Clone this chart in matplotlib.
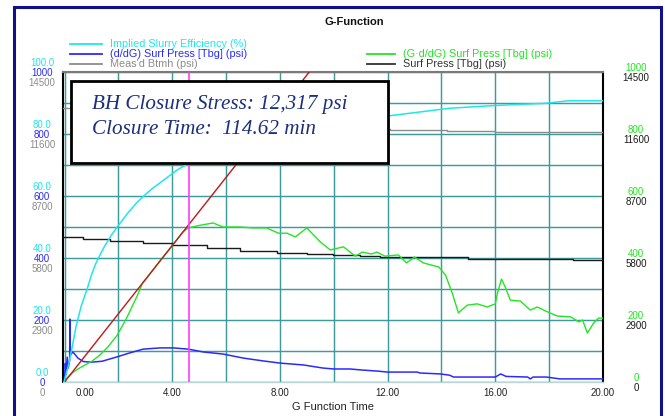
import matplotlib
matplotlib.use("Agg")
import matplotlib.pyplot as plt
from matplotlib.patches import Rectangle
from matplotlib.lines import Line2D
from matplotlib.transforms import ScaledTranslation
import numpy as np

plt.rcParams['font.family'] = ['Liberation Sans', 'DejaVu Sans']

# ---------------- data ----------------
# Implied Slurry Efficiency (%)  (left cyan axis 0-100)
eff_G = [-0.02, 0.15, 0.28, 0.43, 0.62, 0.84, 1.0, 1.15, 1.32, 1.5, 1.75, 2.0, 2.35,
         2.7, 3.2, 3.74, 4.2, 4.67, 6.0, 8.0, 10.0, 12.0, 14.3, 16.0, 17.85, 18.7, 20.0]
eff_val = [0, 5.5, 11, 18, 24.5, 30, 34.5, 38, 41, 44, 47.5, 50.5, 54.5,
           58, 62, 65.5, 68.5, 70.8, 75.5, 80, 83.3, 85.8, 88.3, 89.2, 89.9, 90.7, 90.7]

# (d/dG) Surf Press [Tbg] (psi)  (left blue axis 0-1000)
ddg_G = [0.0, 0.03, 0.06, 0.1, 0.14, 0.19, 0.2, 0.21, 0.3, 0.36, 0.5, 0.7, 1.0, 1.4,
         1.95, 2.43, 2.92, 3.55, 4.03, 4.6, 5.15, 5.9, 6.65, 7.38, 8.0, 8.87, 9.6,
         10.0, 10.6, 11.0, 11.65, 12.0, 13.1, 13.2, 13.96, 14.3, 14.45, 15.5, 16.0,
         16.2, 16.4, 17.2, 17.3, 17.4, 17.9, 18.4, 20.0]
ddg_val = [5, 60, 25, 80, 45, 70, 203, 85, 97, 92, 77, 66, 64, 67,
           81, 94, 106, 110, 110, 106, 97, 90, 77, 68, 61, 55, 45,
           42, 42, 39, 35, 32, 32, 29, 26, 22, 16, 16, 16,
           26, 18, 16, 10, 16, 16, 10, 10]

# Meas'd Btmh (psi)  (left gray axis 0-14500)
btmh_G = [-0.06, 2.0, 4.0, 6.0, 8.0, 10.0, 11.9, 12.1, 14.2, 16.0, 20.0]
btmh_val = [12816, 12650, 12500, 12350, 12200, 12020, 11856, 11810, 11744, 11716, 11716]

# (G*d/dG) Surf Press [Tbg] (psi)  (right green axis 0-1000)
gdg_G = [0, 0.13, 0.3, 0.5, 0.7, 1.0, 1.3, 1.6, 1.95, 2.3, 2.7, 2.9, 3.2, 3.55, 4.0,
         4.4, 4.6, 5.0, 5.52, 5.89, 6.52, 7.0, 7.5, 7.95, 8.27, 8.57, 9.0, 9.5, 9.87,
         10.36, 10.8, 11.06, 11.4, 11.6, 11.9, 12.4, 12.7, 13.0, 13.33, 13.9, 14.15,
         14.4, 14.63, 14.96, 15.33, 15.7, 16.0, 16.08, 16.23, 16.37, 16.56, 16.93,
         17.3, 17.56, 17.94, 18.3, 18.8, 19.1, 19.24, 19.42, 19.65, 19.83, 20.0]
gdg_val = [0, 16, 30, 42, 52, 66, 86, 112, 150, 205, 278, 319, 352, 391, 440,
           484, 497, 505, 513, 500, 500, 497, 497, 480, 480, 468, 497, 452, 426,
           436, 406, 419, 413, 419, 406, 410, 384, 403, 384, 371, 345,
           287, 223, 248, 252, 242, 252, 287, 332, 306, 264, 261,
           232, 242, 226, 213, 210, 194, 200, 158, 190, 206, 206]

# Tangent line on G*dP/dG
tan_G = [0.0, 9.3]
tan_val = [0, 1023]

# Surf Press [Tbg] (psi)  (right black axis 0-14500)
surf_G = [-0.06, 0.69, 1.69, 2.92, 4.0, 5.3, 6.52, 7.9, 9.0, 9.98, 10.98, 11.73,
          15.0, 18.9, 20.0]
surf_val = [6782, 6689, 6595, 6502, 6408, 6268, 6128, 6034, 5987, 5940, 5894, 5847,
            5753, 5707, 5707]

closure_G = 4.62

x_ticks = [0, 4, 8, 12, 16, 20]
x_tick_labels = ["0.00", "4.00", "8.00", "12.00", "16.00", "20.00"]
pct_ticks = [0, 20, 40, 60, 80, 100]
pct_labels = ["0.0", "20.0", "40.0", "60.0", "80.0", "100.0"]
ddg_labels = ["0", "200", "400", "600", "800", "1000"]
psi_labels = ["0", "2900", "5800", "8700", "11600", "14500"]

# ---------------- figure ----------------
W, H = 665, 416
fig = plt.figure(figsize=(W / 100, H / 100), dpi=100)
fig.patch.set_facecolor('white')

def fx(px):
    return px / W

def fy(py):
    return 1 - py / H

L, R, T, B = 63, 603, 72, 382
ax = fig.add_axes([fx(L), fy(B), (R - L) / W, (B - T) / H])
ax.set_facecolor('white')

CYAN = '#1ee6ee'
BLUE = '#2a2aff'
GRAY = '#8c8c8c'
GREEN = '#22e622'
BLACK = '#1a1a1a'
RED = '#c01818'
MAG = '#ff3cff'
GRID = '#3f9a9a'

ax.set_xlim(-0.056, 20.0)
ax.set_ylim(0, 1000)
ax.set_xticks(np.arange(0, 21, 2))
ax.set_xticklabels([x_tick_labels[x_ticks.index(v)] if v in x_ticks else ""
                    for v in range(0, 21, 2)], fontsize=7, color='#222222')
ax.set_yticks(np.arange(0, 1001, 100))
ax.set_yticklabels([])
ax.tick_params(axis='both', length=0, pad=4)
ax.grid(True, color=GRID, lw=1.05)
ax.set_axisbelow(True)
for s in ['left', 'right']:
    ax.spines[s].set_color('black')
    ax.spines[s].set_linewidth(1.5)
ax.spines['top'].set_color('#7a7a7a')
ax.spines['top'].set_linewidth(1.5)
ax.spines['bottom'].set_color('#b8d8d8')
ax.spines['bottom'].set_linewidth(1.0)

# shift first x label to the right as in the reference
lbls = ax.get_xticklabels()
lbls[0].set_transform(lbls[0].get_transform() + ScaledTranslation(0.2, 0, fig.dpi_scale_trans))

ax.set_xlabel("G Function Time", fontsize=8, color='#222222', labelpad=3)

# twin axes
def make_twin(ymax):
    t = ax.twinx()
    t.set_ylim(0, ymax)
    t.set_axis_off()
    return t

ax_psi = make_twin(14500)
ax_grn = make_twin(1000)
ax_pct = make_twin(100)

ax_psi.plot(btmh_G, btmh_val, color=GRAY, lw=1.0, drawstyle='steps-post')
ax_psi.plot(surf_G, surf_val, color=BLACK, lw=1.0, drawstyle='steps-post')
ax.plot(ddg_G, ddg_val, color=BLUE, lw=1.1, zorder=3)
ax_grn.plot(gdg_G, gdg_val, color=GREEN, lw=1.0)
ax_grn.plot(tan_G, tan_val, color=RED, lw=1.0)
ax_pct.plot(eff_G, eff_val, color=CYAN, lw=1.1)
ax_pct.axvline(closure_G, color=MAG, lw=1.2)

# left / right stacked labels
for v, t1, t2, t3 in zip(pct_ticks, pct_labels, ddg_labels, psi_labels):
    ax_pct.annotate(t1, xy=(0, v), xycoords=('axes fraction', 'data'),
                    xytext=(-21, 9), textcoords='offset pixels',
                    ha='center', va='center', fontsize=7, color=CYAN, annotation_clip=False)
    ax_pct.annotate(t2, xy=(0, v), xycoords=('axes fraction', 'data'),
                    xytext=(-21, -1.5), textcoords='offset pixels',
                    ha='center', va='center', fontsize=7, color=BLUE, annotation_clip=False)
    ax_pct.annotate(t3, xy=(0, v), xycoords=('axes fraction', 'data'),
                    xytext=(-21, -11), textcoords='offset pixels',
                    ha='center', va='center', fontsize=7, color=GRAY, annotation_clip=False)
    ax_pct.annotate(t2, xy=(1, v), xycoords=('axes fraction', 'data'),
                    xytext=(33, 4), textcoords='offset pixels',
                    ha='center', va='center', fontsize=7, color=GREEN, annotation_clip=False)
    ax_pct.annotate(t3, xy=(1, v), xycoords=('axes fraction', 'data'),
                    xytext=(33, -6), textcoords='offset pixels',
                    ha='center', va='center', fontsize=7, color=BLACK, annotation_clip=False)

# title
fig.text(fx(354), fy(22), "G-Function", ha='center', va='center',
         fontsize=8, fontweight='bold', color='#111111')

# legend (manual)
leg_left = [("Implied Slurry Efficiency (%)", CYAN, 44),
            ("(d/dG) Surf Press [Tbg] (psi)", BLUE, 54),
            ("Meas'd Btmh (psi)", GRAY, 64)]
for txt, c, yy in leg_left:
    fig.add_artist(Line2D([fx(70), fx(102)], [fy(yy), fy(yy)], color=c, lw=1.3,
                          transform=fig.transFigure))
    fig.text(fx(110), fy(yy), txt, ha='left', va='center', fontsize=7.8, color=c)
leg_right = [("(G\u00b7d/dG) Surf Press [Tbg] (psi)", GREEN, 54),
             ("Surf Press [Tbg] (psi)", '#333333', 64)]
for txt, c, yy in leg_right:
    fig.add_artist(Line2D([fx(367), fx(395)], [fy(yy), fy(yy)], color=c, lw=1.3,
                          transform=fig.transFigure))
    fig.text(fx(403), fy(yy), txt, ha='left', va='center', fontsize=7.8, color=c)

# annotation box
fig.add_artist(Rectangle((fx(71), fy(163)), (388 - 71) / W, (163 - 81) / H,
                         transform=fig.transFigure, facecolor='white',
                         edgecolor='black', lw=2, zorder=10))
fig.text(fx(92), fy(104), "BH Closure Stress: 12,317 psi", ha='left', va='center',
         fontsize=15.2, fontstyle='italic', family=['Liberation Serif', 'DejaVu Serif'],
         color='#1b2f7e', zorder=11)
fig.text(fx(92), fy(130), "Closure Time:  114.62 min", ha='left', va='center',
         fontsize=15.2, fontstyle='italic', family=['Liberation Serif', 'DejaVu Serif'],
         color='#1b2f7e', zorder=11)

# outer navy frame
fig.add_artist(Rectangle((fx(14), fy(430)), (661 - 14) / W, (430 - 7) / H,
                         transform=fig.transFigure, facecolor='none',
                         edgecolor='#10108a', lw=2.2, zorder=12))

fig.savefig("out.png", dpi=100)
